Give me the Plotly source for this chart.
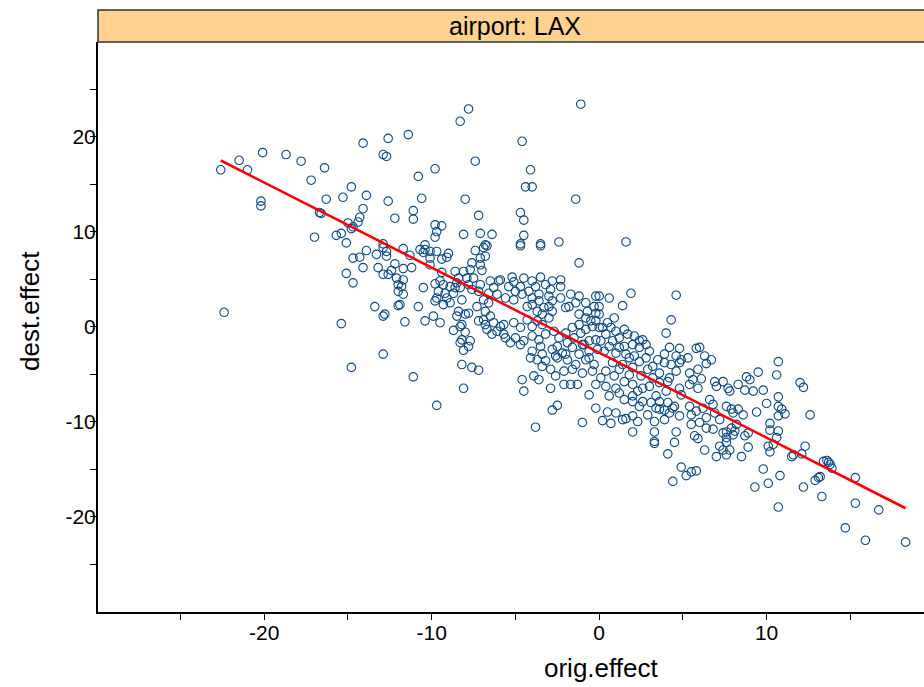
import plotly.graph_objects as go

panel_label = "airport: LAX"
x_title = "orig.effect"
y_title = "dest.effect"

# ---- data: orig.effect (x) and dest.effect (y) ----
orig_effect = (
    [-22.6,-21.5,-21.0,-20.1,-18.7,-17.8,-16.4,-17.2,-20.2,-20.2,-14.1,-12.6,-12.9,-12.7,-14.8,-15.3,-13.9,-16.3,-12.6,-14.1,-16.7,-16.6,-14.3,-14.4,-15.0,-12.2,-14.7,-14.8,-15.7,-15.4,-17.0,-15.1,-12.9]
    + [-7.8,-8.3,-11.4,-4.6,-7.4,-9.8,-4.1,-10.8,-4.4,-4.0,-10.6,-8.0,-11.1,-11.1,-7.2,-4.7,-4.5,-9.8,-9.4,-9.7,-9.8,-8.1,-7.1,-6.4,-4.5,-10.4,-6.8,-4.7,-3.5,-2.4]
    + [-1.1,-1.4,1.6]
    + [-13.9,-12.9,-12.7,-13.3,-12.7,-14.7,-14.3,-14.1,-13.2,-12.4,-12.9,-12.6,-12.2,-15.1,-14.7,-12.1,-12.0,-12.0,-12.0,-13.4,-12.9,-12.8,-22.4,-15.4,-12.9,-14.8]
    + [-11.7,-11.3,-10.7,-10.5,-10.4,-10.1,-9.7,-10.1,-10.1,-9.4,-9.1,-9.0,-7.4,-6.9,-6.7,-7.6,-7.1,-6.8,-7.0,-7.1,-11.7,-11.2,-9.4,-8.6,-8.1,-7.7,-8.4,-7.9,-7.5,-11.7,-11.8,-11.7]
    + [-9.8,-9.5,-9.3,-9.6,-9.2,-9.7,-8.9,-8.7,-8.3,-8.5,-10.5,-7.8,-7.6,-7.2,-6.5,-6.3,-6.6,-6.1,-6.0]
    + [-9.3,-9.8,-8.9,-8.2,-10.8,-7.3,-6.6,-6.8,-6.5,-8.4,-8.0,-7.8,-8.5,-11.9,-11.6,-10.4,-9.9,-9.5]
    + [-7.2,-6.8,-6.3,-5.9,-6.1,-6.4,-6.7,-6.9,-8.3,-8.7,-8.0,-8.2,-8.2,-7.7,-8.3,-7.8,-8.1,-8.2,-7.6,-7.2,-11.1,-8.1]
    + [-9.1,-8.6,-7.1,-6.9]
    + [-9.7,-3.8,-2.8,-2.5]
    + [-4.7,-3.5,-1.2]
    + [-5.9,-5.2,-5.1,-4.5,-3.5,-2.8,-2.3,-3.8,-3.2,-2.9,-2.3,-4.2]
    + [-5.6,-5.0,-4.6,-5.1]
    + [-4.3,-4.0,-3.6,-3.3,-3.0,-3.7,-3.4,-2.8]
    + [-2.3,-1.8,-1.4,-0.8,-0.2,-0.3]
    + [-5.7,-5.7,-5.6]
    + [-5.1,-4.7,-4.3,-4.0,-3.7,-3.4,-3.0]
    + [-5.0,-4.5,-4.0,-3.6,-3.2,-2.7,-2.4,-2.0,-1.6,-1.2,-0.8,-0.4,0.0]
    + [-4.0,-3.4,-2.8,-2.2,-1.6,-1.0,-0.6,-0.1]
    + [-3.7,-3.2,-2.5,-1.9,-1.4,-0.8,-0.3]
    + [-2.9,-1.6,-1.0,-0.4]
    + [-3.9,-3.6,-4.6,-2.6,-2.1,-1.7,-1.3]
    + [-4.5,-2.9,-0.6,-0.2]
    + [-2.0,-1.2,-0.8,-0.5,-1.1,-1.5,-1.9,-2.5,-3.5,-4.7,-5.3,-0.9,-0.6,-0.2,-1.2,-0.6,-2.0,-2.6,-4.1,-3.4,-2.1]
    + [-2.8,-3.6,-4.0,-4.7,-5.4,-4.0,-3.0,-1.7,-1.2,-0.7,-0.2,-0.2]
    + [0.0,0.6,1.9,1.4,4.6]
    + [0.0,0.0,0.9,4.3,4.0,5.8,4.8,4.2]
    + [0.2,0.7,0.4,0.1,0.8,1.2,1.7,1.5,2.0,2.6,2.8,2.4]
    + [0.3,1.0,1.6,2.1,2.8,3.2,3.9,4.3,4.8,5.3]
    + [0.4,1.2,1.8,2.5,3.6,4.2,4.6,5.4,5.9,5.6]
    + [0.4,1.0,2.0,2.3,3.0,3.6,4.1,4.8,5.4,5.9]
    + [0.6,2.0,3.4,4.9]
    + [0.5,1.0,1.5,2.1,2.4,1.2,0.6,1.8,2.4,0.8,1.4,2.0,2.9,3.2,0.1,0.9,1.5,2.6,1.2,4.0,4.9,4.6,3.9,3.0,3.5]
    + [6.0,6.3,6.7,6.4,10.7,10.6,9.5,8.8,9.0,6.1,6.9,7.4,7.0,7.7,7.8,8.3,8.7,9.2,9.8,12.0,12.2,10.7,6.6]
    + [-0.2,0.5,1.0,0.2,0.7,-1.0]
    + [1.5,2.0,2.6,3.1,3.6,4.1,4.5]
    + [1.4,1.6,2.0,2.3,2.0]
    + [2.9,3.4,3.9,3.3,3.9,4.4,4.8,3.3,3.3,3.3]
    + [4.6,4.5,4.1]
    + [4.9,5.2,5.5,5.8,4.4]
    + [5.4,5.8,5.5,6.2,6.4,6.8,6.9,6.0,5.5,6.4,6.8]
    + [5.7,5.9,6.3,7.0,7.2,7.4,7.6,7.6,7.8,8.0,7.6,7.9,7.6,7.9,8.0]
    + [2.4,3.6,4.2,7.2,7.4,7.6]
    + [8.3,8.6,8.2,8.1,8.9,8.7,8.9,8.5]
    + [9.4,10.0,10.7,10.9,10.7,11.1,12.6]
    + [10.2,10.2,10.7,10.6,10.4,10.1,10.2]
    + [12.3,12.1,11.6,11.5]
    + [9.8,10.8,10.1,9.3]
    + [13.4,13.6,13.8,13.9,13.7]
    + [12.2,12.9,13.1,13.2]
    + [13.3,15.3,10.7,15.3,16.7,14.7,15.9,18.3]
)

dest_effect = (
    [16.5,17.5,16.5,18.3,18.1,17.4,16.7,15.4,13.2,12.7,19.3,19.8,18.1,17.9,14.7,13.6,13.8,13.4,13.2,12.4,12.0,11.9,11.5,11.0,10.9,11.4,10.5,10.3,9.6,9.8,9.4,8.8,8.7]
    + [22.9,21.6,20.2,19.5,17.4,16.6,16.5,15.8,14.7,14.7,13.5,13.4,12.2,11.3,11.7,12.0,11.2,10.7,10.6,10.0,9.4,9.7,9.8,9.7,9.6,8.6,8.6,8.7,8.7,8.9]
    + [23.4,13.4,8.9]
    + [8.0,8.3,7.9,7.6,7.4,7.2,7.3,6.2,6.2,5.9,5.5,5.5,6.6,5.6,4.6,5.1,3.7,4.4,2.2,2.1,1.1,1.3,1.5,0.3,-2.9,-4.3]
    + [8.2,7.5,8.1,7.8,8.1,7.9,7.9,7.2,6.5,7.1,7.3,7.7,8.0,8.3,8.5,6.7,7.2,7.4,5.9,6.5,6.1,6.2,5.7,5.8,5.8,6.0,5.1,5.1,5.1,4.9,4.2,3.4]
    + [4.5,4.8,4.4,3.7,3.5,3.0,4.2,3.5,4.1,4.6,4.1,4.4,3.9,3.7,4.8,4.1,3.5,3.4,4.8]
    + [2.3,2.7,2.5,2.8,2.1,2.1,2.5,1.6,1.1,1.6,1.3,1.4,1.1,2.3,0.5,0.6,1.1,0.4]
    + [0.6,0.2,0.4,0.0,-0.5,-0.8,-0.3,0.7,0.0,-0.4,-0.6,0.2,-1.4,-1.5,-1.7,-2.1,-2.5,-4.0,-4.3,-4.6,-5.3,-6.5]
    + [3.0,4.1,4.4,2.8]
    + [-8.3,-10.6,-8.8,-8.3]
    + [8.5,8.5,6.7]
    + [4.9,5.2,4.7,5.1,5.2,4.8,4.9,4.2,4.4,3.9,4.2,3.7]
    + [3.0,3.7,3.4,2.8]
    + [2.1,2.3,2.7,2.0,2.1,1.6,1.3,1.6]
    + [3.0,2.1,2.5,2.5,3.2,2.1]
    + [0.2,-0.8,-1.2]
    + [0.4,-0.1,0.7,0.0,0.6,0.2,0.9]
    + [-1.2,-1.5,-1.0,-1.4,-0.8,-0.5,-1.2,-0.7,-0.1,0.2,-0.3,0.0,-0.1]
    + [-2.6,-2.9,-2.4,-2.8,-2.2,-1.9,-2.6,-2.4]
    + [-3.5,-3.6,-3.3,-3.5,-4.0,-3.5,-4.0]
    + [-4.5,-4.5,-4.9,-4.7]
    + [-5.2,-5.6,-5.6,-5.2,-6.1,-6.1,-6.1]
    + [-6.8,-6.5,-7.2,-6.1]
    + [2.0,1.3,0.9,0.6,-0.7,-1.2,-1.7,-2.1,-2.1,-1.9,-1.7,-1.9,-1.5,-1.4,-2.9,-3.3,-2.9,-3.1,-3.3,-4.2,-4.7]
    + [2.7,3.4,3.0,4.2,4.2,4.8,3.2,3.4,3.2,1.6,1.4,0.6]
    + [3.2,3.0,3.5,2.2,3.3]
    + [2.1,1.3,0.9,0.7,-0.7,-2.3,-2.3,-2.2]
    + [-0.1,-0.1,-0.8,-1.5,-1.5,-1.2,-0.8,-2.1,-1.9,-1.4,-1.9,-2.2]
    + [-2.6,-2.8,-2.9,-3.1,-3.3,-4.2,-3.8,-4.0,-3.8,-3.3]
    + [-4.7,-4.5,-5.1,-5.2,-4.9,-5.4,-4.7,-4.9,-4.5,-5.6]
    + [-6.3,-6.5,-6.1,-6.8,-6.3,-5.9,-5.8,-6.5,-6.1,-6.5]
    + [-7.3,-7.3,-7.3,-7.2]
    + [0.4,-0.5,-0.3,-1.0,-1.5,-2.2,-2.1,-3.3,-3.7,-3.8,-4.0,-4.3,-4.5,-5.4,-5.4,-5.2,-5.8,-6.5,-7.0,-6.8,-3.5,-3.1,-2.9,-2.6,-3.5]
    + [-2.2,-3.1,-3.5,-3.9,-3.7,-5.1,-4.8,-5.3,-5.6,-5.5,-5.8,-5.8,-6.3,-6.5,-6.8,-6.1,-6.7,-6.8,-6.7,-5.9,-6.4,-7.4,-7.7]
    + [-8.6,-9.0,-9.1,-9.9,-10.2,-10.1]
    + [-7.7,-7.9,-7.9,-8.0,-7.9,-8.0,-8.4]
    + [-9.8,-9.7,-9.4,-10.0,-11.1]
    + [-9.3,-8.6,-8.8,-10.0,-9.8,-8.6,-9.4,-11.1,-12.1,-12.3]
    + [-11.1,-12.2,-13.4]
    + [-14.8,-15.7,-15.3,-15.2,-16.3]
    + [-8.4,-8.9,-9.3,-8.6,-9.6,-8.2,-9.1,-10.1,-10.3,-10.7,-10.8]
    + [-11.5,-11.8,-13.0,-13.7,-12.6,-13.0,-12.2,-13.5,-13.0,-11.4,-11.1,-10.7,-8.4,-8.7,-9.1]
    + [-8.4,-8.7,-9.1,-9.8,-11.2,-11.7]
    + [-8.7,-9.3,-10.3,-11.0,-11.2,-11.5,-12.7,-13.7]
    + [-9.0,-8.1,-8.4,-8.7,-9.4,-9.2,-9.3]
    + [-10.2,-10.9,-11.0,-11.7,-12.4,-12.6,-13.2]
    + [-12.6,-13.4,-13.5,-13.7]
    + [-15.0,-15.7,-16.5,-16.9]
    + [-14.2,-14.1,-14.5,-14.9,-14.3]
    + [-16.9,-16.2,-15.9,-15.8]
    + [-17.9,-15.9,-19.0,-18.6,-19.3,-21.2,-22.5,-22.7]
)

# regression line parameters
fit_intercept = -2.75
fit_slope = -0.895

x_tickvals = [-25, -20, -15, -10, -5, 0, 5, 10, 15]
x_ticktext = ["", "-20", "", "-10", "", "0", "", "10", ""]
y_tickvals = [-25, -20, -15, -10, -5, 0, 5, 10, 15, 20, 25]
y_ticktext = ["", "-20", "", "-10", "", "0", "", "10", "", "20", ""]

assert len(orig_effect) == len(dest_effect), (len(orig_effect), len(dest_effect))

FONT = "Arial, Liberation Sans, sans-serif"
W, H = 924, 687
ML, MR, MT, MB = 98, 0, 42, 75
plot_h = H - MT - MB
plot_w = W - ML - MR

fig = go.Figure()
fig.add_trace(go.Scatter(
    x=orig_effect, y=dest_effect, mode="markers",
    marker=dict(symbol="circle-open", size=8.5, color="#0a4a8a", line=dict(width=1.1, color="#0a4a8a")),
    showlegend=False, hoverinfo="x+y"))

xmin, xmax = min(orig_effect), max(orig_effect)
fig.add_trace(go.Scatter(
    x=[xmin, xmax], y=[fit_intercept + fit_slope * xmin, fit_intercept + fit_slope * xmax],
    mode="lines", line=dict(color="#ff0000", width=2.6), showlegend=False, hoverinfo="skip"))

strip_h = 32 / plot_h
fig.add_shape(type="rect", xref="paper", yref="paper", x0=0, x1=1.002, y0=1, y1=1 + strip_h,
              fillcolor="#ffd28f", line=dict(color="#333333", width=1.5), layer="above")
fig.add_annotation(text=panel_label, xref="paper", yref="paper", x=(515 - ML) / plot_w, y=1 + strip_h / 2,
                   showarrow=False, font=dict(family=FONT, size=25, color="black"),
                   xanchor="center", yanchor="middle")
fig.add_annotation(text=x_title, xref="paper", yref="paper", x=(601 - ML) / plot_w, y=-(668 - 612) / plot_h,
                   showarrow=False, font=dict(family=FONT, size=26, color="black"),
                   xanchor="center", yanchor="middle")
fig.add_annotation(text=y_title, xref="paper", yref="paper", x=-(98 - 30) / plot_w, y=(612 - 311) / plot_h,
                   showarrow=False, textangle=-90, font=dict(family=FONT, size=26, color="black"),
                   xanchor="center", yanchor="middle")

fig.update_layout(
    width=W, height=H,
    margin=dict(l=ML, r=MR, t=MT, b=MB, pad=0),
    paper_bgcolor="white", plot_bgcolor="white",
    font=dict(family=FONT, size=21, color="black"),
    xaxis=dict(range=[-29.93, 19.4], tickmode="array", tickvals=x_tickvals, ticktext=x_ticktext,
               ticks="outside", ticklen=6, tickwidth=1, tickcolor="black", ticklabelstandoff=-5,
               showline=True, linecolor="black", linewidth=2, mirror=False,
               showgrid=False, zeroline=False, tickfont=dict(size=21)),
    yaxis=dict(range=[-30.05, 29.95], tickmode="array", tickvals=y_tickvals, ticktext=y_ticktext,
               ticks="outside", ticklen=6, tickwidth=1, tickcolor="black", ticklabelstandoff=-10,
               showline=True, linecolor="black", linewidth=2, mirror=False,
               showgrid=False, zeroline=False, tickfont=dict(size=21)),
)

fig.write_html("out.html")
